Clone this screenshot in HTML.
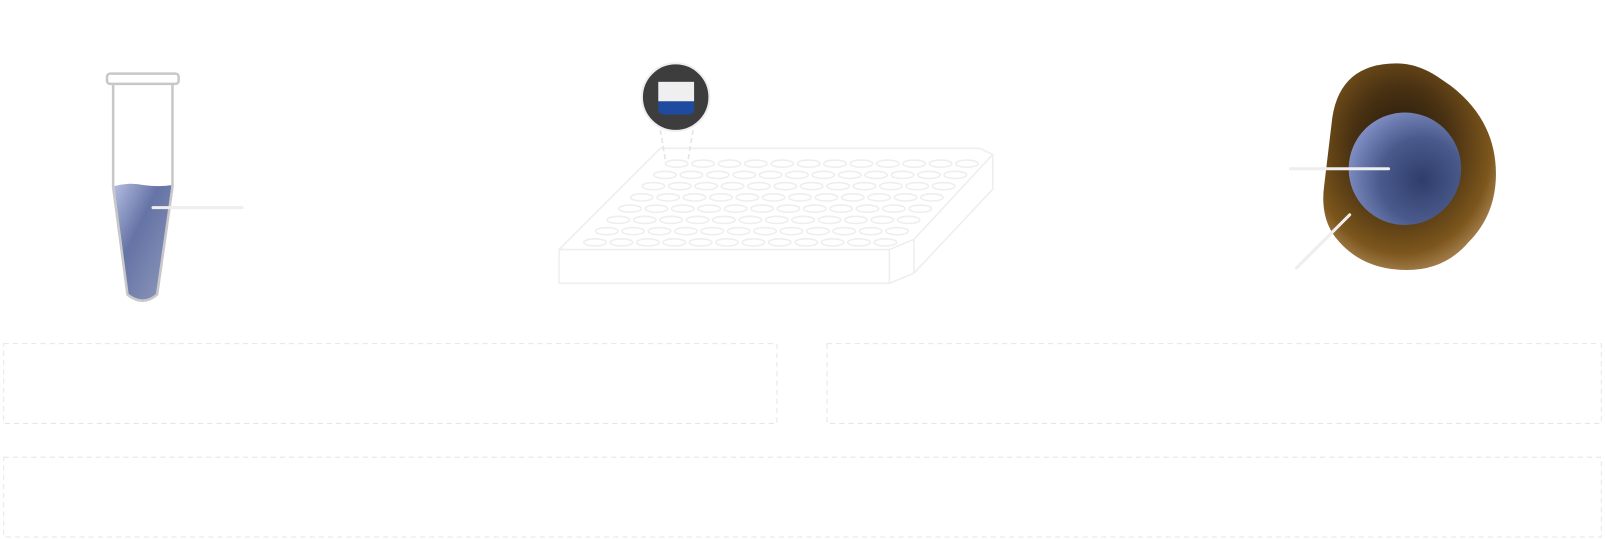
<!DOCTYPE html>
<html><head><style>html,body{margin:0;padding:0;background:#fff;}svg{display:block}</style></head>
<body>
<svg width="1605" height="539" viewBox="0 0 1568 527" xmlns="http://www.w3.org/2000/svg">
<defs>
<linearGradient id="liq" x1="0" y1="0" x2="1" y2="1">
<stop offset="0" stop-color="#b4bde0"/><stop offset="0.4" stop-color="#6573a6"/><stop offset="1" stop-color="#8f9aba"/>
</linearGradient>
<radialGradient id="brown" cx="0.45" cy="0.4" r="0.65">
<stop offset="0" stop-color="#1e160c"/><stop offset="0.45" stop-color="#4a3212"/><stop offset="0.8" stop-color="#7c561c"/><stop offset="1" stop-color="#b08c5c"/>
</radialGradient>
<radialGradient id="blue" cx="0.65" cy="0.6" r="0.75">
<stop offset="0" stop-color="#2e3d6a"/><stop offset="0.5" stop-color="#4a5a8c"/><stop offset="1" stop-color="#8c9ad0"/>
</radialGradient>
</defs>
<!-- tube -->
<path d="M111,182 Q125,178 140,181 Q155,183 167,181 L153,288 Q139,298 125,288 Z" fill="url(#liq)"/>
<path d="M110,82 L110,183 L124,288 Q139,300 153,288 L168,183 L168,82" fill="none" stroke="#c8c8c8" stroke-width="2.5"/>
<rect x="104" y="72" width="70" height="10" rx="3" fill="#fff" stroke="#c8c8c8" stroke-width="2.5"/>
<line x1="149" y1="203" x2="236" y2="203" stroke="#eee" stroke-width="3" stroke-linecap="round"/>
<!-- plate -->
<g fill="none" stroke="#eeeeee" stroke-width="1.5">
<path d="M546,244 L645,145 L957,145 L970,151 L970,185 L893,267 L869,277 L546,277 Z"/>
<path d="M546,244 L869,244 L869,277 M869,244 L893,234 L893,267 M893,234 L970,151"/>
<g id="wells">
<ellipse cx="661" cy="160" rx="11" ry="3.5"/>
</g>
</g>
<g fill="none" stroke="#eeeeee" stroke-width="1.5" id="allwells"></g>
<line x1="645" y1="127" x2="650" y2="157" stroke="#e4e4e4" stroke-width="1.5" stroke-dasharray="5,3"/>
<line x1="677" y1="127" x2="672" y2="157" stroke="#e4e4e4" stroke-width="1.5" stroke-dasharray="5,3"/>
<circle cx="660" cy="95" r="33" fill="#3d3d3d" stroke="#eee" stroke-width="2"/>
<path d="M643,80 H678 V106 Q678,112 672,112 H649 Q643,112 643,106 Z" fill="#1e4aa0"/>
<rect x="643" y="80" width="35" height="19" fill="#efefef"/>
<!-- cell -->
<path d="M1302,115 Q1310,62 1365,62 Q1385,62 1405,75 L1418,84 Q1462,118 1462,170 Q1462,210 1435,237 Q1412,264 1375,264 Q1330,264 1305,232 Q1290,212 1294,182 Z" fill="url(#brown)"/>
<circle cx="1373" cy="165" r="55" fill="url(#blue)"/>
<line x1="1261" y1="165" x2="1357" y2="165" stroke="#eee" stroke-width="3" stroke-linecap="round"/>
<line x1="1267" y1="262" x2="1319" y2="210" stroke="#eee" stroke-width="3" stroke-linecap="round"/>
<!-- boxes -->
<g fill="none" stroke="#e6e6e6" stroke-width="1" stroke-dasharray="5,4">
<rect x="3" y="336" width="756" height="78"/>
<rect x="808" y="336" width="757" height="78"/>
<rect x="3" y="447" width="1562" height="78"/>
</g>
<g fill="none" stroke="#eeeeee" stroke-width="1.5">
<script>
</script>
</g>
<g fill="none" stroke="#eeeeee" stroke-width="1.5">
<ellipse cx="686.8" cy="160" rx="11" ry="3.5"/><ellipse cx="712.6" cy="160" rx="11" ry="3.5"/><ellipse cx="738.4" cy="160" rx="11" ry="3.5"/><ellipse cx="764.2" cy="160" rx="11" ry="3.5"/><ellipse cx="790" cy="160" rx="11" ry="3.5"/><ellipse cx="815.8" cy="160" rx="11" ry="3.5"/><ellipse cx="841.6" cy="160" rx="11" ry="3.5"/><ellipse cx="867.4" cy="160" rx="11" ry="3.5"/><ellipse cx="893.2" cy="160" rx="11" ry="3.5"/><ellipse cx="919" cy="160" rx="11" ry="3.5"/><ellipse cx="944.8" cy="160" rx="11" ry="3.5"/>
<ellipse cx="649.6" cy="171" rx="11" ry="3.5"/><ellipse cx="675.4" cy="171" rx="11" ry="3.5"/><ellipse cx="701.2" cy="171" rx="11" ry="3.5"/><ellipse cx="727" cy="171" rx="11" ry="3.5"/><ellipse cx="752.8" cy="171" rx="11" ry="3.5"/><ellipse cx="778.6" cy="171" rx="11" ry="3.5"/><ellipse cx="804.4" cy="171" rx="11" ry="3.5"/><ellipse cx="830.2" cy="171" rx="11" ry="3.5"/><ellipse cx="856" cy="171" rx="11" ry="3.5"/><ellipse cx="881.8" cy="171" rx="11" ry="3.5"/><ellipse cx="907.6" cy="171" rx="11" ry="3.5"/><ellipse cx="933.4" cy="171" rx="11" ry="3.5"/>
<ellipse cx="638.2" cy="182" rx="11" ry="3.5"/><ellipse cx="664" cy="182" rx="11" ry="3.5"/><ellipse cx="689.8" cy="182" rx="11" ry="3.5"/><ellipse cx="715.6" cy="182" rx="11" ry="3.5"/><ellipse cx="741.4" cy="182" rx="11" ry="3.5"/><ellipse cx="767.2" cy="182" rx="11" ry="3.5"/><ellipse cx="793" cy="182" rx="11" ry="3.5"/><ellipse cx="818.8" cy="182" rx="11" ry="3.5"/><ellipse cx="844.6" cy="182" rx="11" ry="3.5"/><ellipse cx="870.4" cy="182" rx="11" ry="3.5"/><ellipse cx="896.2" cy="182" rx="11" ry="3.5"/><ellipse cx="922" cy="182" rx="11" ry="3.5"/>
<ellipse cx="626.8" cy="193" rx="11" ry="3.5"/><ellipse cx="652.6" cy="193" rx="11" ry="3.5"/><ellipse cx="678.4" cy="193" rx="11" ry="3.5"/><ellipse cx="704.2" cy="193" rx="11" ry="3.5"/><ellipse cx="730" cy="193" rx="11" ry="3.5"/><ellipse cx="755.8" cy="193" rx="11" ry="3.5"/><ellipse cx="781.6" cy="193" rx="11" ry="3.5"/><ellipse cx="807.4" cy="193" rx="11" ry="3.5"/><ellipse cx="833.2" cy="193" rx="11" ry="3.5"/><ellipse cx="859" cy="193" rx="11" ry="3.5"/><ellipse cx="884.8" cy="193" rx="11" ry="3.5"/><ellipse cx="910.6" cy="193" rx="11" ry="3.5"/>
<ellipse cx="615.4" cy="204" rx="11" ry="3.5"/><ellipse cx="641.2" cy="204" rx="11" ry="3.5"/><ellipse cx="667" cy="204" rx="11" ry="3.5"/><ellipse cx="692.8" cy="204" rx="11" ry="3.5"/><ellipse cx="718.6" cy="204" rx="11" ry="3.5"/><ellipse cx="744.4" cy="204" rx="11" ry="3.5"/><ellipse cx="770.2" cy="204" rx="11" ry="3.5"/><ellipse cx="796" cy="204" rx="11" ry="3.5"/><ellipse cx="821.8" cy="204" rx="11" ry="3.5"/><ellipse cx="847.6" cy="204" rx="11" ry="3.5"/><ellipse cx="873.4" cy="204" rx="11" ry="3.5"/><ellipse cx="899.2" cy="204" rx="11" ry="3.5"/>
<ellipse cx="604" cy="215" rx="11" ry="3.5"/><ellipse cx="629.8" cy="215" rx="11" ry="3.5"/><ellipse cx="655.6" cy="215" rx="11" ry="3.5"/><ellipse cx="681.4" cy="215" rx="11" ry="3.5"/><ellipse cx="707.2" cy="215" rx="11" ry="3.5"/><ellipse cx="733" cy="215" rx="11" ry="3.5"/><ellipse cx="758.8" cy="215" rx="11" ry="3.5"/><ellipse cx="784.6" cy="215" rx="11" ry="3.5"/><ellipse cx="810.4" cy="215" rx="11" ry="3.5"/><ellipse cx="836.2" cy="215" rx="11" ry="3.5"/><ellipse cx="862" cy="215" rx="11" ry="3.5"/><ellipse cx="887.8" cy="215" rx="11" ry="3.5"/>
<ellipse cx="592.6" cy="226" rx="11" ry="3.5"/><ellipse cx="618.4" cy="226" rx="11" ry="3.5"/><ellipse cx="644.2" cy="226" rx="11" ry="3.5"/><ellipse cx="670" cy="226" rx="11" ry="3.5"/><ellipse cx="695.8" cy="226" rx="11" ry="3.5"/><ellipse cx="721.6" cy="226" rx="11" ry="3.5"/><ellipse cx="747.4" cy="226" rx="11" ry="3.5"/><ellipse cx="773.2" cy="226" rx="11" ry="3.5"/><ellipse cx="799" cy="226" rx="11" ry="3.5"/><ellipse cx="824.8" cy="226" rx="11" ry="3.5"/><ellipse cx="850.6" cy="226" rx="11" ry="3.5"/><ellipse cx="876.4" cy="226" rx="11" ry="3.5"/>
<ellipse cx="581.2" cy="237" rx="11" ry="3.5"/><ellipse cx="607" cy="237" rx="11" ry="3.5"/><ellipse cx="632.8" cy="237" rx="11" ry="3.5"/><ellipse cx="658.6" cy="237" rx="11" ry="3.5"/><ellipse cx="684.4" cy="237" rx="11" ry="3.5"/><ellipse cx="710.2" cy="237" rx="11" ry="3.5"/><ellipse cx="736" cy="237" rx="11" ry="3.5"/><ellipse cx="761.8" cy="237" rx="11" ry="3.5"/><ellipse cx="787.6" cy="237" rx="11" ry="3.5"/><ellipse cx="813.4" cy="237" rx="11" ry="3.5"/><ellipse cx="839.2" cy="237" rx="11" ry="3.5"/><ellipse cx="865" cy="237" rx="11" ry="3.5"/>
</g>
</svg>
</body></html>
